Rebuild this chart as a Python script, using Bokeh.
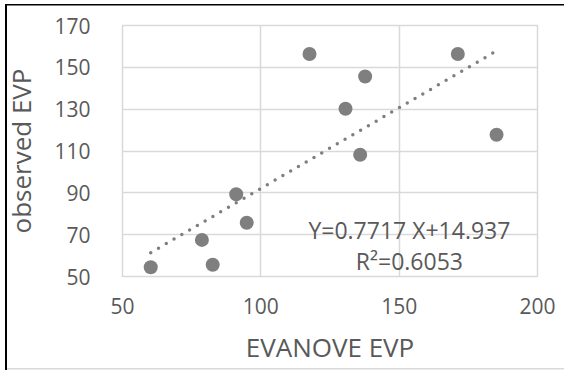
from bokeh.plotting import figure
from bokeh.models import Range1d, FixedTicker, Label
from bokeh.embed import file_html
from bokeh.resources import INLINE

# ---- data ----
evanove_evp = [60.2, 78.7, 82.6, 91.1, 94.9, 117.6, 130.6, 135.9, 137.7, 171.2, 185.2]
observed_evp = [54.4, 67.5, 55.6, 89.3, 75.7, 156.4, 130.2, 108.2, 145.6, 156.4, 117.8]
x_ticks = [50, 100, 150, 200]
y_ticks = [50, 70, 90, 110, 130, 150, 170]
slope = 0.7717
intercept = 14.937
r_squared = 0.6053
x_title = "EVANOVE EVP"
y_title = "observed EVP"

FONT = "Open Sans"
TEXT = "#595959"
GRID = "#d9d9d9"
MARK = "#7f7f7f"

p = figure(width=564, height=370, output_backend="svg", toolbar_location=None,
           x_range=Range1d(50, 200), y_range=Range1d(50, 170),
           min_border_left=114, min_border_right=27, min_border_top=25,
           min_border_bottom=94)
p.background_fill_color = "white"
p.border_fill_color = None
p.outline_line_color = GRID
p.outline_line_width = 1.5

# crop-border lines of the reference image, painted behind the transparent border area
p.styles = {
    "background": (
        "linear-gradient(#000,#000) 5px 4px / 2px 366px no-repeat, "
        "linear-gradient(#000,#000) 5px 4px / 559px 1.5px no-repeat, "
        "linear-gradient(#d9d9d9,#d9d9d9) 7px 368px / 557px 1.5px no-repeat, "
        "#ffffff"
    )
}

for ax, ticks in ((p.xaxis[0], x_ticks), (p.yaxis[0], y_ticks)):
    ax.ticker = FixedTicker(ticks=ticks)
    ax.axis_line_color = None
    ax.major_tick_line_color = None
    ax.minor_tick_line_color = None
    ax.major_label_text_font = FONT
    ax.major_label_text_font_size = "21px"
    ax.major_label_text_color = TEXT
    ax.axis_label_text_font = FONT
    ax.axis_label_text_font_size = "26px"
    ax.axis_label_text_font_style = "normal"
    ax.axis_label_text_color = TEXT

p.xaxis.axis_label = x_title
p.yaxis.axis_label = y_title
p.xaxis.major_label_standoff = 15
p.yaxis.major_label_standoff = 26
p.xaxis.axis_label_standoff = 12
p.yaxis.axis_label_standoff = 12

p.xgrid.ticker = FixedTicker(ticks=x_ticks)
p.ygrid.ticker = FixedTicker(ticks=y_ticks)
p.grid.grid_line_color = GRID
p.grid.grid_line_width = 1.5

# trend line over the range of the data
x0, x1 = min(evanove_evp), max(evanove_evp)
p.line([x0, x1], [slope * x0 + intercept, slope * x1 + intercept],
       line_color=MARK, line_width=3.5, line_dash="0 9", line_cap="round")

p.scatter(evanove_evp, observed_evp, size=14, fill_color=MARK, line_color=None)

eq1 = "Y=%.4f X+%.3f" % (slope, intercept)
eq2 = "R\u00b2=%.4f" % r_squared
p.add_layout(Label(x=153.7, y=72.3, text=eq1, text_align="center",
                   text_baseline="alphabetic", text_font=FONT,
                   text_font_size="23px", text_color=TEXT))
p.add_layout(Label(x=153.7, y=57.3, text=eq2, text_align="center",
                   text_baseline="alphabetic", text_font=FONT,
                   text_font_size="23px", text_color=TEXT))

open("out.html", "w").write(file_html(p, INLINE))
